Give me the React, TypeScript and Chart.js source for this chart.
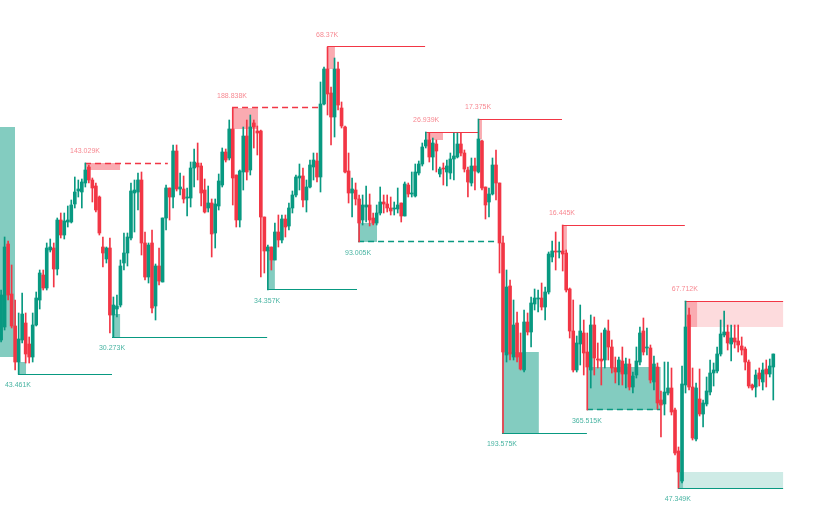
import React, { useEffect, useRef } from "react";
import { Chart, registerables } from "chart.js";

Chart.register(...registerables);

const GREEN = "#089981";
const RED = "#F23645";

// OHLC (price units, higher = up)
const opens = [
  169, 182, 265, 215, 183, 147, 169, 186, 165, 152,
  184, 209, 234, 221, 259, 261, 240, 289, 274, 287,
  287, 305, 318, 317, 326, 342, 329, 323, 312, 262,
  250, 261, 194, 200, 204, 246, 256, 271, 316, 317,
  329, 266, 232, 266, 203, 243, 227, 291, 321, 312,
  358, 320, 320, 311, 311, 341, 346, 343, 319, 301,
  306, 276, 303, 324, 357, 351, 380, 334, 289, 337,
  373, 339, 386, 378, 378, 292, 258, 262, 249, 277,
  269, 290, 283, 301, 314, 331, 333, 309, 322, 342,
  348, 332, 405, 440, 416, 392, 440, 401, 382, 338,
  316, 319, 310, 289, 302, 304, 291, 286, 296, 307,
  305, 301, 300, 300, 306, 293, 324, 315, 313, 336,
  345, 363, 369, 352, 365, 335, 341, 337, 336, 350,
  352, 365, 356, 339, 326, 343, 337, 368, 322, 307,
  315, 344, 326, 266, 154, 223, 152, 186, 156, 139,
  187, 177, 205, 210, 211, 202, 217, 252, 258, 257,
  258, 256, 220, 178, 139, 165, 176, 157, 139, 184,
  150, 150, 149, 178, 162, 141, 137, 148, 135, 145,
  122, 134, 147, 178, 161, 161, 127, 142, 109, 105,
  116, 121, 99, 58, 28, 124, 194, 122, 70, 110,
  95, 105, 117, 136, 138, 155, 174, 177, 165, 171,
  168, 163, 160, 147, 124, 122, 136, 127, 140, 135,
  142,
];

const highs = [
  219, 272, 268, 244, 209, 196, 216, 196, 172, 196,
  217, 239, 239, 266, 270, 266, 291, 296, 296, 303,
  309, 332, 329, 330, 346, 344, 331, 326, 313, 272,
  262, 271, 212, 214, 249, 276, 276, 326, 329, 336,
  337, 277, 266, 279, 245, 261, 291, 324, 321, 364,
  364, 336, 333, 321, 347, 360, 366, 346, 330, 323,
  310, 310, 335, 361, 360, 389, 401, 334, 339, 382,
  389, 394, 389, 383, 379, 292, 264, 262, 286, 294,
  294, 294, 306, 318, 334, 345, 341, 329, 349, 356,
  356, 427, 442, 462, 422, 451, 447, 407, 383, 356,
  331, 326, 314, 314, 323, 315, 296, 304, 322, 314,
  314, 312, 307, 321, 306, 327, 326, 337, 345, 348,
  366, 377, 376, 371, 369, 342, 346, 349, 356, 376,
  376, 376, 359, 342, 351, 351, 390, 369, 322, 321,
  351, 359, 326, 273, 239, 229, 209, 197, 176, 199,
  196, 212, 220, 219, 226, 222, 257, 268, 277, 267,
  284, 259, 221, 209, 173, 204, 189, 176, 194, 192,
  166, 176, 181, 189, 169, 152, 152, 162, 151, 150,
  137, 162, 182, 191, 181, 164, 153, 146, 118, 147,
  147, 141, 101, 62, 143, 208, 201, 141, 126, 140,
  109, 132, 149, 146, 162, 189, 198, 184, 184, 184,
  184, 172, 162, 149, 125, 139, 141, 146, 149, 150,
  155,
];

const lows = [
  167, 179, 209, 181, 139, 135, 166, 146, 146, 147,
  183, 200, 219, 219, 257, 222, 234, 271, 270, 282,
  286, 301, 312, 301, 322, 326, 307, 297, 274, 242,
  246, 176, 172, 192, 202, 239, 243, 269, 277, 299,
  254, 229, 226, 196, 189, 224, 227, 279, 289, 301,
  318, 314, 306, 293, 302, 322, 329, 303, 296, 297,
  252, 261, 299, 322, 347, 349, 304, 282, 282, 319,
  329, 334, 361, 354, 232, 236, 219, 239, 249, 262,
  266, 272, 279, 296, 312, 319, 302, 297, 321, 329,
  327, 317, 404, 394, 364, 372, 399, 381, 336, 306,
  292, 304, 267, 284, 287, 283, 284, 284, 294, 296,
  297, 294, 294, 296, 287, 293, 312, 312, 312, 334,
  343, 361, 347, 339, 337, 332, 324, 323, 330, 329,
  351, 353, 337, 312, 323, 319, 336, 319, 290, 292,
  314, 309, 236, 76, 147, 149, 149, 147, 139, 137,
  174, 162, 199, 197, 199, 189, 215, 247, 239, 251,
  238, 217, 171, 137, 137, 144, 134, 99, 121, 134,
  141, 124, 141, 149, 136, 126, 124, 124, 121, 119,
  116, 131, 144, 154, 154, 126, 119, 100, 72, 94,
  114, 94, 54, 21, 26, 116, 119, 69, 68, 93,
  82, 103, 114, 123, 136, 153, 172, 159, 148, 161,
  157, 154, 139, 121, 119, 112, 123, 119, 122, 132,
  109,
];

const closes = [
  214, 262, 214, 183, 147, 170, 195, 155, 152, 184,
  211, 236, 221, 261, 262, 240, 289, 274, 288, 289,
  304, 317, 320, 327, 339, 329, 321, 299, 276, 256,
  261, 194, 204, 203, 243, 256, 272, 318, 319, 329,
  266, 232, 264, 201, 243, 228, 291, 321, 312, 358,
  320, 322, 310, 312, 341, 347, 342, 316, 297, 306,
  275, 305, 328, 357, 349, 380, 331, 289, 338, 373,
  337, 382, 382, 376, 292, 258, 262, 249, 277, 269,
  290, 282, 301, 314, 332, 333, 309, 322, 344, 349,
  332, 405, 440, 415, 392, 440, 404, 383, 337, 316,
  320, 310, 286, 304, 304, 289, 286, 296, 307, 305,
  301, 298, 301, 304, 293, 325, 315, 316, 337, 345,
  362, 369, 352, 366, 358, 340, 340, 343, 350, 353,
  365, 356, 340, 327, 343, 338, 370, 321, 304, 315,
  344, 326, 266, 157, 222, 155, 184, 152, 140, 187,
  177, 206, 211, 211, 202, 217, 255, 258, 257, 258,
  255, 219, 178, 139, 166, 178, 156, 142, 184, 151,
  149, 148, 179, 162, 141, 137, 149, 135, 145, 122,
  133, 148, 176, 157, 162, 129, 145, 106, 104, 117,
  121, 97, 56, 37, 125, 182, 122, 71, 121, 95,
  106, 118, 136, 139, 155, 175, 177, 166, 171, 167,
  164, 159, 147, 123, 121, 134, 130, 139, 135, 143,
  155,
];

// Pivot levels (x in candle-index units, y in price units)
const pivotLabels = [
  "43.461K", "143.029K", "30.273K", "188.838K", "34.357K", "68.37K", "93.005K",
  "26.939K", "17.375K", "193.575K", "16.445K", "365.515K", "47.349K", "67.712K",
];
const pivotSide = [
  "low", "high", "low", "high", "low", "high", "low",
  "high", "high", "low", "high", "low", "low", "high",
];
const pivotPrice = [135, 346, 172, 401, 219, 462, 267, 377, 390, 76, 284, 99, 21, 208];
const pivotEdge = [147, 339, 195, 380, 259, 440, 286, 369, 370, 157, 257, 142, 37, 182];
const pivotStart = [4.8, 23.9, 31.6, 65.8, 75.8, 92.9, 101.7, 121.1, 135.9, 142.7, 159.8, 166.9, 192.8, 194.8];
const pivotBoxEnd = [7.1, 33.9, 33.9, 73.2, 78.0, 95.1, 107.1, 125.9, 137.0, 153.2, 161.2, 187.9, 194.3, 198.3];
const pivotLineEnd = [31.6, 47.5, 75.8, 90.9, 101.4, 120.8, 142.1, 135.9, 159.8, 166.9, 194.8, 187.9, 222.8, 222.8];
const pivotDashed = [false, true, false, true, false, false, true, false, false, false, false, true, false, false];

// Extra zones (older zone at left edge, extended zones at right)
const zoneStart = [-1, 198.3, 194.3];
const zoneEnd = [3.96, 222.8, 222.8];
const zoneTop = [382, 208, 37];
const zoneBottom = [152, 182, 21];
const zoneSide = ["low", "high", "low"];
const zoneStrong = [true, false, false];

const X_MIN = -0.313;
const X_MAX = 232.17;
const Y_MIN = 0;
const Y_MAX = 509;

const zoneColor = (side: string, strong: boolean) =>
  side === "low"
    ? strong ? "rgba(8,153,129,0.5)" : "rgba(8,153,129,0.2)"
    : strong ? "rgba(242,54,69,0.42)" : "rgba(242,54,69,0.18)";

const pivotPlugin = {
  id: "pivotZones",
  beforeDatasetsDraw(chart: any) {
    const { ctx, scales } = chart;
    const xs = scales.x;
    const ys = scales.y;
    ctx.save();
    for (let k = 0; k < zoneStart.length; k++) {
      const x1 = xs.getPixelForValue(zoneStart[k]);
      const x2 = xs.getPixelForValue(zoneEnd[k]);
      const y1 = ys.getPixelForValue(zoneTop[k]);
      const y2 = ys.getPixelForValue(zoneBottom[k]);
      ctx.fillStyle = zoneColor(zoneSide[k], zoneStrong[k]);
      ctx.fillRect(x1, y1, x2 - x1, y2 - y1);
    }
    for (let k = 0; k < pivotLabels.length; k++) {
      const x1 = xs.getPixelForValue(pivotStart[k]);
      const x2 = xs.getPixelForValue(pivotBoxEnd[k]);
      const yp = ys.getPixelForValue(pivotPrice[k]);
      const ye = ys.getPixelForValue(pivotEdge[k]);
      ctx.fillStyle = zoneColor(pivotSide[k], true);
      ctx.fillRect(x1, Math.min(yp, ye), x2 - x1, Math.abs(ye - yp));
    }
    for (let k = 0; k < pivotLabels.length; k++) {
      const x1 = xs.getPixelForValue(pivotStart[k]);
      const x2 = xs.getPixelForValue(pivotLineEnd[k]);
      const dashed = pivotDashed[k];
      const yp = Math.floor(ys.getPixelForValue(pivotPrice[k])) + 0.5;
      ctx.strokeStyle = pivotSide[k] === "low" ? GREEN : RED;
      ctx.lineWidth = dashed ? 1.5 : 1;
      ctx.setLineDash(dashed ? [6, 4] : []);
      ctx.beginPath();
      ctx.moveTo(x1, yp);
      ctx.lineTo(x2, yp);
      ctx.stroke();
    }
    ctx.restore();
  },
  afterDatasetsDraw(chart: any) {
    const { ctx, scales } = chart;
    const xs = scales.x;
    const ys = scales.y;
    ctx.save();
    ctx.font = "7px 'Liberation Sans', Arial, sans-serif";
    ctx.textAlign = "center";
    ctx.textBaseline = "middle";
    for (let k = 0; k < pivotLabels.length; k++) {
      const xc = xs.getPixelForValue(pivotStart[k]);
      const yp = ys.getPixelForValue(pivotPrice[k]);
      const high = pivotSide[k] === "high";
      ctx.fillStyle = high ? "rgba(242,54,69,0.6)" : "rgba(8,153,129,0.75)";
      ctx.fillText(pivotLabels[k], xc, high ? yp - 12 : yp + 11);
    }
    ctx.restore();
  },
};

export default function App() {
  const ref = useRef<HTMLCanvasElement | null>(null);

  useEffect(() => {
    const canvas = ref.current;
    if (!canvas) return;
    const idx = opens.map((_, i) => i);
    const colors = idx.map((i) => (closes[i] >= opens[i] ? GREEN : RED));
    const bodies = idx.map((i) => ({ x: i, y: [opens[i], closes[i]] }));
    const wicks = idx.map((i) => ({ x: i, y: [lows[i], highs[i]] }));

    const chart = new Chart(canvas, {
      type: "bar",
      data: {
        datasets: [
          {
            label: "body",
            data: bodies as any,
            backgroundColor: colors,
            borderWidth: 0,
            barThickness: 3,
            minBarLength: 1,
            grouped: false,
            order: 0,
          } as any,
          {
            label: "wick",
            data: wicks as any,
            backgroundColor: colors,
            borderWidth: 0,
            barThickness: 1,
            minBarLength: 1,
            grouped: false,
            order: 1,
          } as any,
        ],
      },
      options: {
        animation: false,
        responsive: false,
        maintainAspectRatio: false,
        layout: { padding: 0 },
        plugins: {
          legend: { display: false },
          tooltip: { enabled: false },
        },
        scales: {
          x: { type: "linear", min: X_MIN, max: X_MAX, offset: false, display: false },
          y: { type: "linear", min: Y_MIN, max: Y_MAX, offset: false, display: false },
        },
      },
      plugins: [pivotPlugin],
    });
    return () => chart.destroy();
  }, []);

  return (
    <div style={{ position: "fixed", left: 0, top: 0, width: 816, height: 509, background: "#ffffff" }}>
      <canvas ref={ref} width={816} height={509} style={{ display: "block", width: 816, height: 509 }} />
    </div>
  );
}
